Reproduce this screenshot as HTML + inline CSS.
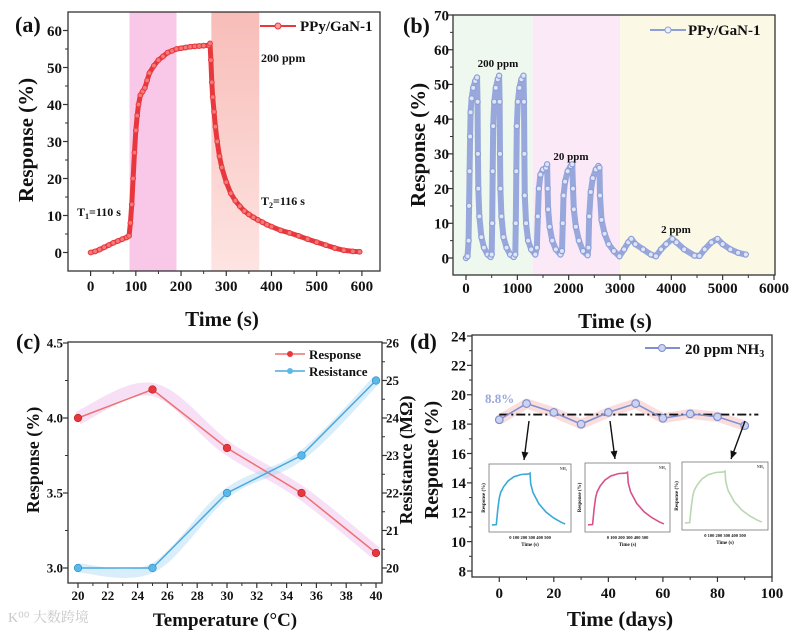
<!DOCTYPE html>
<html><head><meta charset="utf-8"><style>
html,body{margin:0;padding:0;background:#fff;}
svg{display:block;font-family:"Liberation Serif","Noto Serif CJK SC",serif;font-weight:bold;}
</style></head><body>
<svg id="fig" width="793" height="631" viewBox="0 0 793 631" xmlns="http://www.w3.org/2000/svg">
<defs>
<linearGradient id="salmon" x1="0" y1="0" x2="0" y2="1"><stop offset="0" stop-color="#f8bdb8"/><stop offset="1" stop-color="#fde4e2"/></linearGradient>
</defs>
</svg>
<script>
// ---------- DATA ----------
const aTime=[0,10,20,30,40,50,60,70,80,85,88,91,94,97,100,103,106,110,115,120,125,130,140,150,160,170,180,190,200,210,220,230,240,250,262,264,266,268,270,273,276,280,285,290,300,310,320,330,340,350,360,370,380,390,400,420,440,460,480,500,520,540,560,580,595];
const aResp=[0,0.3,0.8,1.4,2,2.6,3.1,3.6,4.1,4.5,8,13,20,27,33,37,40,42.5,43.5,44.5,46.5,48.5,50.5,52,53,54,54.5,55,55.2,55.4,55.6,55.7,55.8,55.9,56,56.5,52,46,42,38,34,30,26,23,19,16,14,12.5,11.2,10.3,9.5,8.8,8.2,7.5,7,6,5.3,4.5,3.6,2.8,2,1.2,0.6,0.3,0.2];
const aXTicks=[0,100,200,300,400,500,600];
const aYTicks=[0,10,20,30,40,50,60];

const bTime=[0,30,50,60,70,80,90,110,140,180,215,225,232,240,260,300,350,420,480,500,510,520,530,550,580,620,645,655,662,670,690,730,790,860,930,960,970,980,990,1010,1040,1080,1120,1130,1137,1145,1170,1210,1270,1350,1380,1400,1420,1450,1500,1560,1580,1590,1600,1630,1680,1750,1840,1870,1885,1900,1930,1980,2040,2070,2085,2100,2140,2200,2280,2370,2385,2400,2430,2470,2530,2580,2600,2610,2640,2700,2780,2880,2990,3080,3160,3220,3300,3450,3600,3700,3800,3900,4020,4100,4250,4450,4550,4650,4780,4900,5000,5150,5300,5450];
const bResp=[0,0.5,5,15,25,35,42,46,49,51,52,45,30,20,12,6,3,1,0.3,1,10,25,38,45,49,51.5,52.5,45,30,20,12,6,3,1,0.3,1,10,25,38,45,49,51.5,52.5,45,30,18,10,5,2.5,1,3,12,20,24,25.5,26,27,20,14,9,5,2.5,1,2,10,18,22,25,26.5,27,20,14,9,5,2,0.8,3,12,19,23,25.5,26.5,26,18,11,7,4,2,0.5,2.5,4.5,5.5,4,2.5,1,0.5,2.5,4,5.5,4.5,2.5,0.7,0.6,2.5,4.5,5.5,4,2.5,1.5,1];
const bXTicks=[0,1000,2000,3000,4000,5000,6000];
const bYTicks=[0,10,20,30,40,50,60,70];

const cTemp=[20,25,30,35,40];
const cResp=[4.0,4.19,3.8,3.5,3.1];
const cRes=[20.0,20.0,22.0,23.0,25.0];
const cXTicks=[20,22,24,26,28,30,32,34,36,38,40];
const cYTicks=[3.0,3.5,4.0,4.5];
const cY2Ticks=[20,21,22,23,24,25,26];

const dDays=[0,10,20,30,40,50,60,70,80,90];
const dResp=[18.3,19.4,18.8,18.0,18.8,19.4,18.4,18.7,18.5,17.9];
const dMean=18.65;
const dXTicks=[0,20,40,60,80,100];
const dYTicks=[8,10,12,14,16,18,20,22,24];

const insTime=[0,30,40,50,60,80,110,150,200,250,260,265,280,320,370,420,470,500];
const insResp=[0.5,0.6,6,10,12,14,16,17.5,18.3,18.5,18.8,15,12,8,5,3,1.5,0.8];

// ---------- HELPERS ----------
const NS='http://www.w3.org/2000/svg';
const svg=document.getElementById('fig');
function mk(tag,attrs,parent){const e=document.createElementNS(NS,tag);for(const k in attrs)e.setAttribute(k,attrs[k]);(parent||svg).appendChild(e);return e;}
function lin(d0,d1,r0,r1){return v=>r0+(v-d0)*(r1-r0)/(d1-d0);}
function txt(x,y,s,size,anchor,parent,fill){const t=mk('text',{x:x,y:y,'font-size':size,'text-anchor':anchor||'start',fill:fill||'#111'},parent);t.textContent=s;return t;}
function smooth(pts){let d='M'+pts[0][0]+','+pts[0][1];for(let i=0;i<pts.length-1;i++){const p0=pts[i-1]||pts[i],p1=pts[i],p2=pts[i+1],p3=pts[i+2]||p2;const c1x=p1[0]+(p2[0]-p0[0])/6,c1y=p1[1]+(p2[1]-p0[1])/6,c2x=p2[0]-(p3[0]-p1[0])/6,c2y=p2[1]-(p3[1]-p1[1])/6;d+=` C${c1x},${c1y} ${c2x},${c2y} ${p2[0]},${p2[1]}`;}return d;}

function xAxis(g,ticks,sx,yb,labY,size){
  ticks.forEach(v=>{
    const l=mk('line',{x1:sx(v),x2:sx(v),y1:yb,y2:yb+5,stroke:'#333','stroke-width':1.2},g);
    
    
    const t=txt(sx(v),labY,String(v),size,'middle',g);
    
    
  });
  for(let i=0;i<ticks.length-1;i++){
    const m=(ticks[i]+ticks[i+1])/2;
    const l=mk('line',{x1:sx(m),x2:sx(m),y1:yb,y2:yb+3,stroke:'#333','stroke-width':1},g);
    
    
  }
}
function yAxis(g,ticks,sy,xl,labX,size,fmt,side){
  const dir=side==='right'?1:-1;
  ticks.forEach(v=>{
    const l=mk('line',{x1:xl,x2:xl+dir*5,y1:sy(v),y2:sy(v),stroke:'#333','stroke-width':1.2},g);
    
    
    const t=txt(labX,sy(v)+size*0.35,fmt?fmt(v):String(v),size,side==='right'?'start':'end',g);
    
    
  });
  for(let i=0;i<ticks.length-1;i++){
    const m=(ticks[i]+ticks[i+1])/2;
    const l=mk('line',{x1:xl,x2:xl+dir*3,y1:sy(m),y2:sy(m),stroke:'#333','stroke-width':1},g);
    
    
  }
}
function frame(g,x0,y0,x1,y1){const r=mk('rect',{x:x0,y:y0,width:x1-x0,height:y1-y0,fill:'none',stroke:'#333','stroke-width':1.3},g);return r;}
function vtitle(g,x,y,s,size){const t=mk('text',{x:x,y:y,'font-size':size,'text-anchor':'middle',transform:`rotate(-90 ${x} ${y})`,fill:'#111'},g);t.textContent=s;return t;}

// ---------- PANEL A ----------
{
const g=mk('g',{});


const X0=68,X1=380,Y0=12,Y1=271;
const sx=lin(-50,640,X0,X1), sy=lin(-5,65,Y1,Y0);
const b1=mk('rect',{x:sx(86),y:Y0,width:sx(190)-sx(86),height:Y1-Y0,fill:'#f9c8e8'},g);


const b2=mk('rect',{x:sx(267),y:Y0,width:sx(373)-sx(267),height:Y1-Y0,fill:'url(#salmon)'},g);


const pl=mk('polyline',{points:aTime.map((t,i)=>sx(t)+','+sy(aResp[i])).join(' '),fill:'none',stroke:'#e8383d','stroke-width':5,'stroke-linejoin':'round'},g);


aTime.forEach((t,i)=>{
  const c=mk('circle',{cx:sx(t),cy:sy(aResp[i]),r:2.4,fill:'#f47a7a',stroke:'#e8383d','stroke-width':1},g);
  
  
});
frame(g,X0,Y0,X1,Y1);
xAxis(g,aXTicks,sx,Y1,291,15);
yAxis(g,aYTicks,sy,X0,62,15);
const lt=txt(15,32,'(a)',22,'start',g);  
const yt=vtitle(g,33,140,'Response (%)',21);  
const xt=txt(222,326,'Time (s)',21,'middle',g);  
const ll=mk('line',{x1:260,x2:296,y1:26,y2:26,stroke:'#e8383d','stroke-width':2},g);  
const lc=mk('circle',{cx:278,cy:26,r:3,fill:'#f6a0a0',stroke:'#e8383d'},g);  
const lg=txt(300,31,'PPy/GaN-1',15,'start',g);  
const a1=txt(261,62,'200 ppm',12,'start',g);  
const a2=mk('text',{x:77,y:216,'font-size':12,fill:'#111'},g); a2.innerHTML='T<tspan font-size="8" dy="3">1</tspan><tspan dy="-3">=110 s</tspan>';  
const a3=mk('text',{x:261,y:205,'font-size':12,fill:'#111'},g); a3.innerHTML='T<tspan font-size="8" dy="3">2</tspan><tspan dy="-3">=116 s</tspan>';  
}

// ---------- PANEL B ----------
{
const g=mk('g',{});


const X0=453,X1=775,Y0=15,Y1=275;
const sx=lin(0,3000,466,620), sy=lin(0,70,258,15);
const r1=mk('rect',{x:X0,y:Y0,width:sx(1300)-X0,height:Y1-Y0,fill:'#eef8ee'},g);  
const r2=mk('rect',{x:sx(1300),y:Y0,width:sx(3000)-sx(1300),height:Y1-Y0,fill:'#fce9f8'},g);  
const r3=mk('rect',{x:sx(3000),y:Y0,width:X1-sx(3000),height:Y1-Y0,fill:'#fbf8e6'},g);  
const pl=mk('polyline',{points:bTime.map((t,i)=>sx(t)+','+sy(bResp[i])).join(' '),fill:'none',stroke:'#98a8dc','stroke-width':6,'stroke-linejoin':'round'},g);


bTime.forEach((t,i)=>{
  const c=mk('circle',{cx:sx(t),cy:sy(bResp[i]),r:2.6,fill:'#dfe4f6',stroke:'#8c9fd8','stroke-width':1.2},g);
  
  
});
frame(g,X0,Y0,X1,Y1);
xAxis(g,bXTicks,sx,Y1,293,15);
yAxis(g,bYTicks,sy,X0,449,15);
const lt=txt(403,33,'(b)',22,'start',g);  
const yt=vtitle(g,425,145,'Response (%)',21);  
const xt=txt(615,328,'Time (s)',21,'middle',g);  
const ll=mk('line',{x1:650,x2:686,y1:30,y2:30,stroke:'#8c9fd8','stroke-width':2},g);  
const lc=mk('circle',{cx:668,cy:30,r:3,fill:'#eef0fa',stroke:'#8c9fd8'},g);  
const lg=txt(688,35,'PPy/GaN-1',15,'start',g);  
const c1=txt(498,67,'200 ppm',11,'middle',g);  
const c2=txt(571,160,'20 ppm',11,'middle',g);  
const c3=txt(676,233,'2 ppm',11,'middle',g);  
}

// ---------- PANEL C ----------
{
const g=mk('g',{});


const X0=68,X1=382,Y0=342,Y1=583;
const sx=lin(20,40,78,376), sy=lin(3.0,4.5,568,343), sy2=lin(20,26,568,343);
const rp=cTemp.map((t,i)=>[sx(t),sy(cResp[i])]);
const sp=cTemp.map((t,i)=>[sx(t),sy2(cRes[i])]);
const bandR=mk('path',{d:smooth(rp),fill:'none',stroke:'#e8a6e6','stroke-width':13,'stroke-opacity':0.35},g);
 
const bandS=mk('path',{d:smooth(sp),fill:'none',stroke:'#9fd4f2','stroke-width':9,'stroke-opacity':0.4},g);
 
const lr=mk('polyline',{points:rp.map(p=>p.join(',')).join(' '),fill:'none',stroke:'#ee7070','stroke-width':1.5},g);
 
const ls=mk('polyline',{points:sp.map(p=>p.join(',')).join(' '),fill:'none',stroke:'#4aa8e0','stroke-width':1.5},g);
 
rp.forEach(p=>{const c=mk('circle',{cx:p[0],cy:p[1],r:3.8,fill:'#e8383d',stroke:'#b02020','stroke-width':0.6},g);
  
  });
sp.forEach(p=>{const c=mk('circle',{cx:p[0],cy:p[1],r:3.8,fill:'#5ab8ea',stroke:'#2a88c0','stroke-width':0.6},g);
  
  });
frame(g,X0,Y0,X1,Y1);
xAxis(g,cXTicks,sx,Y1,600,13);
yAxis(g,cYTicks,sy,X0,63,13,v=>v.toFixed(1));
yAxis(g,cY2Ticks,sy2,X1,386,13,null,'right');
const lt=txt(16,349,'(c)',22,'start',g);  
const yt=vtitle(g,39,460,'Response (%)',18);  
const y2=vtitle(g,412,460,'Resistance (MΩ)',18);  
const xt=txt(225,626,'Temperature (°C)',19,'middle',g);  
const l1=mk('line',{x1:275,x2:305,y1:354,y2:354,stroke:'#ee7070','stroke-width':1.5},g);  
const m1=mk('circle',{cx:290,cy:354,r:3,fill:'#e8383d'},g);  
const t1=txt(309,359,'Response',13,'start',g);  
const l2=mk('line',{x1:275,x2:305,y1:371,y2:371,stroke:'#4aa8e0','stroke-width':1.5},g);  
const m2=mk('circle',{cx:290,cy:371,r:3,fill:'#5ab8ea'},g);  
const t2=txt(309,376,'Resistance',13,'start',g);  
const wm=txt(8,622,'K⁰⁰ 大数跨境',14,'start',g,'#c8c8c8');   wm.setAttribute('font-weight','normal');
}

// ---------- PANEL D ----------
{
const g=mk('g',{});


const X0=472,X1=772,Y0=335,Y1=577;
const sx=lin(-10,100,X0,X1), sy=lin(8,24,571,336);
const pts=dDays.map((d,i)=>[sx(d),sy(dResp[i])]);
const band=mk('polyline',{points:pts.map(p=>p.join(',')).join(' '),fill:'none',stroke:'#f4b4b4','stroke-width':10,'stroke-opacity':0.45,'stroke-linejoin':'round'},g);
 
const mean=mk('line',{x1:sx(0),x2:sx(95),y1:sy(dMean),y2:sy(dMean),stroke:'#111','stroke-width':1.8,'stroke-dasharray':'9 3 2 3'},g);
 
const ln=mk('polyline',{points:pts.map(p=>p.join(',')).join(' '),fill:'none',stroke:'#7f8fcf','stroke-width':1.5},g);
 
pts.forEach(p=>{const c=mk('circle',{cx:p[0],cy:p[1],r:3.8,fill:'#ccd3f0',stroke:'#7f8fcf','stroke-width':1.2},g);
  
  });
const pct=txt(485,403,'8.8%',13,'start',g,'#9aa8dc');  
[[529,421,524,460],[610,421,615,459],[745,421,731,459]].forEach(a=>{
  const l=mk('line',{x1:a[0],y1:a[1],x2:a[2],y2:a[3],stroke:'#111','stroke-width':1.4},g);
   
  const ang=Math.atan2(a[3]-a[1],a[2]-a[0]);const L=8,W=3.5;
  const bx=a[2]-L*Math.cos(ang),by=a[3]-L*Math.sin(ang);
  const h=mk('polygon',{points:`${a[2]},${a[3]} ${bx+W*Math.sin(ang)},${by-W*Math.cos(ang)} ${bx-W*Math.sin(ang)},${by+W*Math.cos(ang)}`,fill:'#111'},g);
   
});
[[489,571,464,532,'#3aa8d8'],[585,670,463,532,'#d8508c'],[682,768,462,530,'#b8d8b0']].forEach(b=>{
  const ig=mk('g',{},g);
   
  const r=mk('rect',{x:b[0],y:b[2],width:b[1]-b[0],height:b[3]-b[2],fill:'#fff',stroke:'#777','stroke-width':0.8},ig);
   
  const ix=lin(-20,540,b[0],b[1]), iy=lin(-2,22,b[3],b[2]);
  const c=mk('polyline',{points:insTime.map((t,i)=>ix(t)+','+iy(insResp[i])).join(' '),fill:'none',stroke:b[4],'stroke-width':1.6},ig);
   
  const xl=txt((b[0]+b[1])/2,b[3]+7,'0  100  200  300  400  500',4.5,'middle',ig);  
  const xt=txt((b[0]+b[1])/2,b[3]+14,'Time (s)',5,'middle',ig);  
  const yt=vtitle(ig,b[0]-4,(b[2]+b[3])/2,'Response (%)',5);  
  const lg=txt(b[1]-4,b[2]+6,'NH₃',4,'end',ig,'#555');  
});
frame(g,X0,Y0,X1,Y1);
xAxis(g,dXTicks,sx,Y1,598,15);
yAxis(g,dYTicks,sy,X0,466,15);
const lt=txt(410,349,'(d)',22,'start',g);  
const yt=vtitle(g,438,460,'Response (%)',20);  
const xt=txt(620,626,'Time (days)',21,'middle',g);  
const ll=mk('line',{x1:645,x2:680,y1:348,y2:348,stroke:'#7f8fcf','stroke-width':2},g);  
const lc=mk('circle',{cx:662,cy:348,r:3.5,fill:'#ccd3f0',stroke:'#7f8fcf'},g);  
const lg=mk('text',{x:685,y:354,'font-size':15,fill:'#111'},g); lg.innerHTML='20 ppm NH<tspan font-size="10" dy="3">3</tspan>';  
}
</script>
</body></html>
